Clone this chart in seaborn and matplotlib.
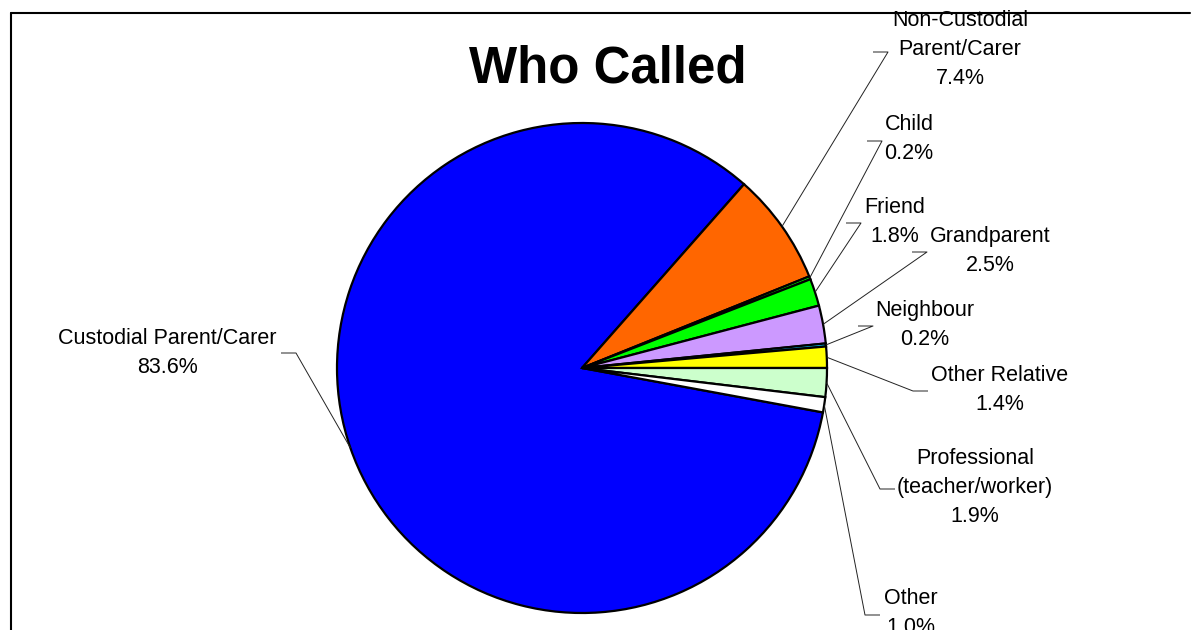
import numpy as np
import matplotlib
matplotlib.use("Agg")
import matplotlib.pyplot as plt
import seaborn as sns

# -------- DATA --------
categories = ['Custodial Parent/Carer', 'Non-Custodial\nParent/Carer', 'Child', 'Friend',
              'Grandparent', 'Neighbour', 'Other Relative',
              'Professional\n(teacher/worker)', 'Other']
shares = [83.6, 7.4, 0.2, 1.8, 2.5, 0.2, 1.4, 1.9, 1.0]
colors = ['#0000FF', '#FF6600', '#00FF00', '#00FF00', '#CC99FF', '#00CCFF',
          '#FFFF00', '#CCFFCC', '#FFFFFF']

# -------- LAYOUT (pixel coords, y down) --------
W, H = 1192, 630
center = (582, 368)
radius = 245
line_h = 29.5
# label centre x and first line centre y
label_pos = [(167, 338), (960, 20), (909, 124), (895, 207), (990, 236),
             (925, 310), (1000, 375), (975, 458), (911, 598)]
# leader elbow (x, y) and which way the short horizontal tick goes
elbows = [(296, 353, -1), (888, 52, -1), (882, 141, -1), (861, 223, -1), (927, 252, -1),
          (873, 326, -1), (913, 391, 1), (880, 489, 1), (865, 615, 1)]

sns.set_theme(style='white')
plt.rcParams['font.family'] = ['Liberation Sans', 'DejaVu Sans']

fig = plt.figure(figsize=(W / 100, H / 100), dpi=100)
ax = fig.add_axes([0, 0, 1, 1])

# start so that the last two slices sit just below 3 o'clock
start = -3.6 * (shares[-2] + shares[-1])
wedges, _ = ax.pie(shares, colors=colors, startangle=start, counterclock=False,
                   radius=radius, center=(center[0], H - center[1]),
                   wedgeprops=dict(edgecolor='black', linewidth=1.6), frame=True)
ax.set_xlim(0, W)
ax.set_ylim(0, H)
ax.set_aspect('equal')
ax.axis('off')

for i, w in enumerate(wedges):
    ang = np.deg2rad((w.theta1 + w.theta2) / 2)
    px = center[0] + radius * np.cos(ang)
    py = H - center[1] + radius * np.sin(ang)
    ex, ey, side = elbows[i]
    ey = H - ey
    ax.plot([px, ex, ex + 15 * side], [py, ey, ey], color='#222222', lw=0.7,
            solid_capstyle='butt')
    lx, ly = label_pos[i]
    txt = f'{categories[i]}\n{shares[i]:.1f}%'
    n = txt.count('\n') + 1
    yc = ly + (n - 1) * line_h / 2
    ax.text(lx, H - yc, txt, ha='center', va='center', fontsize=15.5,
            linespacing=1.47, color='black')

fig.text(608 / W, 1 - 69 / H, 'Who Called', ha='center', va='center',
         fontsize=36.7, fontweight='bold', color='black')

# chart frame (left and top edges)
fig.add_artist(plt.Line2D([11 / W, 11 / W], [0, 1 - 13 / H], color='black', lw=1.5))
fig.add_artist(plt.Line2D([11 / W, 1190 / W], [1 - 13 / H, 1 - 13 / H], color='black', lw=1.5))

fig.savefig('out.png', dpi=100)
